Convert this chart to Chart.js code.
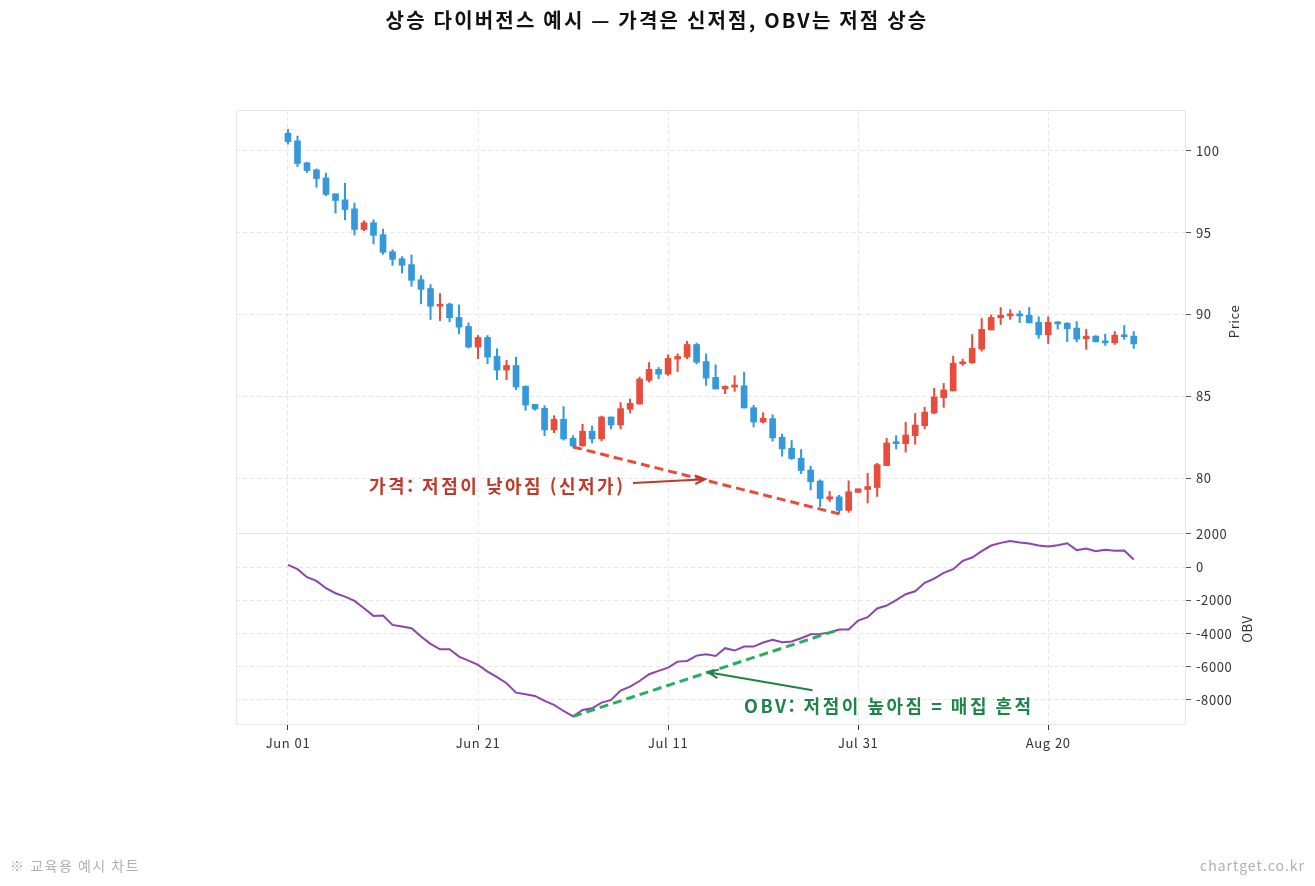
<!DOCTYPE html>
<html lang="ko">
<head>
<meta charset="utf-8">
<title>상승 다이버전스 예시</title>
<script src="https://cdn.jsdelivr.net/npm/chart.js@4.4.1/dist/chart.umd.min.js"></script>
<style>
  html, body { margin: 0; padding: 0; background: #fff; }
  #wrap { width: 1315px; height: 886px; }
</style>
</head>
<body>
<div id="wrap"><canvas id="myChart" width="1315" height="886"></canvas></div>
<script>
// daily candles, Jun 01 .. Aug 29 (day index 0..89)
const opens = [101.08,100.61,99.27,98.84,98.35,97.38,97.01,96.46,95.20,95.61,
  94.88,93.84,93.41,93.05,92.13,91.59,90.51,90.64,89.82,89.27,
  88.01,88.60,87.44,86.61,86.89,85.61,84.51,84.27,82.95,83.60,
  82.44,81.97,82.87,82.40,83.74,83.25,84.21,84.53,85.98,86.65,
  86.36,87.28,87.40,88.17,87.13,86.16,85.45,85.57,85.65,84.31,
  83.43,83.64,82.50,81.83,81.22,80.50,79.83,78.72,78.86,78.03,
  79.13,79.31,79.43,80.77,82.15,82.11,82.60,83.21,83.98,84.92,
  85.33,86.99,87.05,87.89,89.06,89.80,89.92,89.98,89.96,89.53,
  88.76,89.53,89.47,89.17,88.52,88.68,88.37,88.27,88.74,88.68];
const highs = [101.32,100.91,99.31,98.90,98.64,97.38,98.03,96.81,95.73,95.79,
  95.22,93.96,93.54,93.64,92.38,91.83,91.28,90.70,90.59,89.49,
  88.72,88.72,87.91,87.20,87.40,85.65,84.51,84.43,83.82,84.37,
  82.60,83.29,83.19,83.80,83.74,84.63,84.84,86.18,87.07,86.77,
  87.54,87.60,88.37,88.25,87.60,86.93,85.65,86.26,86.48,84.45,
  84.00,83.88,82.70,82.30,81.75,80.74,79.90,79.19,78.96,79.84,
  79.35,80.30,80.91,82.44,82.60,83.41,83.96,84.33,85.49,85.79,
  87.46,87.28,88.78,89.76,89.98,90.43,90.30,90.22,90.43,89.86,
  89.86,89.57,89.51,89.57,89.09,88.72,88.80,88.96,89.33,88.96];
const lows = [100.41,99.04,98.68,97.78,97.26,96.20,95.79,94.86,95.12,94.31,
  93.68,93.01,92.54,91.73,90.65,89.70,89.63,89.55,88.82,87.95,
  87.30,86.99,86.02,86.02,85.41,84.15,84.15,82.60,82.78,82.32,
  81.91,81.95,82.15,82.28,83.01,83.01,83.98,84.53,85.87,86.08,
  86.28,86.52,87.30,86.99,85.67,85.45,85.16,85.30,84.29,83.13,
  83.37,82.26,81.34,81.14,80.28,79.28,78.26,78.57,77.82,77.91,
  79.13,78.48,78.88,80.77,81.79,81.59,82.07,83.01,83.94,84.33,
  85.33,86.89,87.01,87.76,89.06,89.39,89.70,89.51,89.49,88.54,
  88.23,89.11,88.35,88.33,87.87,88.33,88.11,88.17,88.48,87.93];
const closes = [100.57,99.23,98.80,98.31,97.34,96.97,96.42,95.20,95.61,94.84,
  93.80,93.37,93.01,92.09,91.54,90.51,90.62,89.81,89.23,88.01,
  88.60,87.40,86.61,86.89,85.57,84.47,84.23,82.95,83.60,82.40,
  81.97,82.87,82.40,83.74,83.25,84.25,84.57,86.06,86.65,86.35,
  87.32,87.44,88.17,87.09,86.12,85.45,85.61,85.69,84.29,83.43,
  83.66,82.46,81.79,81.20,80.47,79.79,78.76,78.86,78.03,79.17,
  79.35,79.49,80.83,82.15,82.11,82.64,83.25,84.04,84.96,85.39,
  87.03,87.11,87.93,89.09,89.82,89.96,89.98,89.92,89.49,88.76,
  89.53,89.43,89.13,88.50,88.68,88.33,88.27,88.74,88.64,88.21];
const obv = [140,-120,-600,-825,-1265,-1570,-1770,-2030,-2470,-2935,
  -2915,-3480,-3580,-3680,-4180,-4620,-4945,-4945,-5390,-5630,
  -5890,-6290,-6630,-6995,-7560,-7660,-7760,-8060,-8300,-8665,
  -8990,-8600,-8500,-8160,-8000,-7440,-7200,-6860,-6450,-6250,
  -6050,-5690,-5650,-5330,-5250,-5350,-4880,-5025,-4785,-4785,
  -4540,-4380,-4520,-4480,-4280,-4040,-4020,-3940,-3760,-3760,
  -3215,-3015,-2490,-2310,-1990,-1630,-1450,-945,-685,-340,
  -120,380,580,965,1305,1465,1570,1490,1425,1305,
  1245,1325,1445,1025,1125,965,1045,985,1005,460];

const tickDays = [0, 20, 40, 60, 80];
const tickLabels = ["Jun 01", "Jun 21", "Jul 11", "Jul 31", "Aug 20"];
const priceTicks = [80, 85, 90, 95, 100];
const obvTicks = [-8000, -6000, -4000, -2000, 0, 2000];

// divergence: low points compared
const lowA = 30, lowB = 58;

const UP = "#e74c3c", DOWN = "#3498db";
const FONT = '"Noto Sans CJK KR", "Noto Sans", sans-serif';

const candleColor = closes.map((c, i) => c >= opens[i] ? UP : DOWN);
const wickData = lows.map((l, i) => ({x: i, y: [l, highs[i]]}));
const bodyData = opens.map((o, i) => ({x: i, y: [o, closes[i]]}));
const obvData = obv.map((v, i) => ({x: i, y: v}));

function drawArrow(ctx, x1, y1, x2, y2, color) {
  const ang = Math.atan2(y2 - y1, x2 - x1);
  const h = 11;
  ctx.strokeStyle = color;
  ctx.lineWidth = 2;
  ctx.beginPath();
  ctx.moveTo(x1, y1);
  ctx.lineTo(x2, y2);
  ctx.moveTo(x2 - h * Math.cos(ang - 0.4), y2 - h * Math.sin(ang - 0.4));
  ctx.lineTo(x2, y2);
  ctx.lineTo(x2 - h * Math.cos(ang + 0.4), y2 - h * Math.sin(ang + 0.4));
  ctx.stroke();
}

const overlay = {
  id: "overlay",
  beforeDraw(chart) {
    chart.ctx.letterSpacing = "0.6px";
  },
  afterDraw(chart) {
    const {ctx, chartArea: a, scales} = chart;
    const sx = scales.x, sp = scales.y, so = scales.yObv;
    ctx.save();
    // frame + panel split
    ctx.strokeStyle = "#e6e6e6";
    ctx.lineWidth = 1;
    ctx.setLineDash([]);
    ctx.strokeRect(a.left + 0.5, a.top + 0.5, a.width - 1, a.height - 1);
    ctx.beginPath();
    ctx.moveTo(a.left, Math.round(so.top) + 0.5);
    ctx.lineTo(a.right, Math.round(so.top) + 0.5);
    ctx.stroke();

    // title
    ctx.fillStyle = "#111";
    ctx.font = "bold 20px " + FONT;
    ctx.letterSpacing = "2.2px";
    ctx.textAlign = "center";
    ctx.textBaseline = "middle";
    ctx.fillText("상승 다이버전스 예시 — 가격은 신저점, OBV는 저점 상승", 657, 20);

    // axis titles
    ctx.font = "13px " + FONT;
    ctx.letterSpacing = "0.6px";
    ctx.fillStyle = "#333";
    ctx.save();
    ctx.translate(1234, (sp.top + sp.bottom) / 2);
    ctx.rotate(-Math.PI / 2);
    ctx.fillText("Price", 0, 0);
    ctx.restore();
    ctx.save();
    ctx.translate(1247, (so.top + so.bottom) / 2);
    ctx.rotate(-Math.PI / 2);
    ctx.fillText("OBV", 0, 0);
    ctx.restore();

    // price annotation
    ctx.font = "bold 18px " + FONT;
    ctx.letterSpacing = "2.5px";
    ctx.fillStyle = "#c0392b";
    ctx.textAlign = "right";
    ctx.fillText("가격: 저점이 낮아짐 (신저가)", sx.getPixelForValue(35.3) + 2, sp.getPixelForValue(79.5));
    drawArrow(ctx, sx.getPixelForValue(36.3), sp.getPixelForValue(79.7),
      sx.getPixelForValue(43.9), sp.getPixelForValue(79.94), "#c0392b");

    // obv annotation
    ctx.fillStyle = "#1e8449";
    ctx.textAlign = "left";
    ctx.fillText("OBV: 저점이 높아짐 = 매집 흔적", sx.getPixelForValue(48), so.getPixelForValue(-8370));
    drawArrow(ctx, sx.getPixelForValue(55.2), so.getPixelForValue(-7410),
      sx.getPixelForValue(44.2), so.getPixelForValue(-6325), "#1e8449");

    // footer
    ctx.font = "14px " + FONT;
    ctx.letterSpacing = "1.5px";
    ctx.fillStyle = "#b0b0b0";
    ctx.textAlign = "left";
    ctx.fillText("※ 교육용 예시 차트", 10, 866);
    ctx.letterSpacing = "1px";
    ctx.textAlign = "right";
    ctx.fillText("chartget.co.kr", 1305, 866);
    ctx.restore();
  }
};

const gridY = {
  color: "#e6e6e6",
  tickColor: "#555",
  tickLength: 5,
  tickBorderDash: [],
  tickWidth: 1
};

new Chart(document.getElementById("myChart"), {
  type: "bar",
  data: {
    datasets: [
      {
        type: "line", data: [{x: lowA, y: lows[lowA]}, {x: lowB, y: lows[lowB]}],
        yAxisID: "y", borderColor: UP, borderWidth: 3, borderDash: [9, 5],
        pointRadius: 0, order: 0
      },
      {
        type: "line", data: [{x: lowA, y: obv[lowA]}, {x: lowB, y: obv[lowB]}],
        yAxisID: "yObv", borderColor: "#27ae60", borderWidth: 3, borderDash: [9, 5],
        pointRadius: 0, order: 0
      },
      {
        type: "line", data: obvData, yAxisID: "yObv",
        borderColor: "#8e44ad", borderWidth: 2, pointRadius: 0, tension: 0, order: 1
      },
      {
        label: "wick", data: wickData, yAxisID: "y", grouped: false,
        backgroundColor: candleColor, barThickness: 1.4, borderWidth: 0, order: 3
      },
      {
        label: "body", data: bodyData, yAxisID: "y", grouped: false,
        backgroundColor: candleColor, barThickness: 6, borderWidth: 0,
        minBarLength: 2, order: 2
      }
    ]
  },
  options: {
    responsive: false,
    animation: false,
    layout: {padding: {left: 236, top: 110, right: 59, bottom: 121}},
    plugins: {legend: {display: false}, tooltip: {enabled: false}},
    scales: {
      x: {
        type: "linear", min: -5.47, max: 94.5, offset: false,
        grid: {color: "#e6e6e6", tickColor: "#333", tickLength: 5, tickBorderDash: [], offset: false},
        border: {display: false, dash: [4, 3]},
        afterBuildTicks: s => { s.ticks = tickDays.map(v => ({value: v})); },
        afterFit: s => { s.height = 40; },
        ticks: {
          font: {family: FONT, size: 13}, color: "#333", padding: 5, maxRotation: 0,
          callback: v => tickLabels[tickDays.indexOf(v)]
        }
      },
      y: {
        position: "right", stack: "panels", stackWeight: 423,
        min: 76.65, max: 102.5,
        grid: gridY,
        border: {display: false, dash: [4, 3]},
        afterBuildTicks: s => { s.ticks = priceTicks.map(v => ({value: v})); },
        afterFit: s => { s.width = 70; },
        ticks: {font: {family: FONT, size: 13}, color: "#333", padding: 5, callback: v => String(v)}
      },
      yObv: {
        type: "linear", position: "right", stack: "panels", stackWeight: 192,
        min: -9510, max: 2060,
        grid: gridY,
        border: {display: false, dash: [4, 3]},
        afterBuildTicks: s => { s.ticks = obvTicks.map(v => ({value: v})); },
        afterFit: s => { s.width = 70; },
        ticks: {font: {family: FONT, size: 13}, color: "#333", padding: 5, callback: v => String(v)}
      }
    }
  },
  plugins: [overlay]
});
</script>
</body>
</html>
